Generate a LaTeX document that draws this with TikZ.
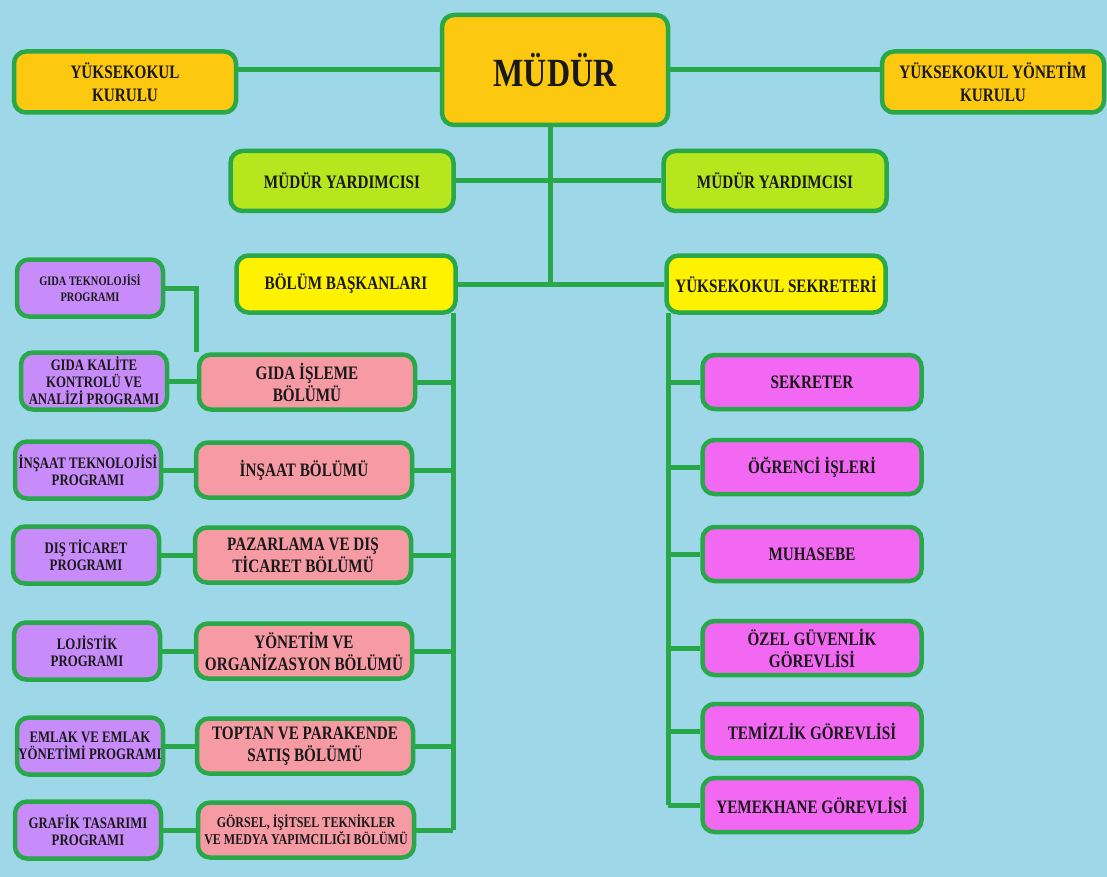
\documentclass[tikz,border=0pt]{standalone}
\usepackage{fontspec}
\setmainfont[FakeStretch=0.8]{Liberation Serif}
\usetikzlibrary{positioning}
\definecolor{skyblue}{RGB}{158,216,232}
\definecolor{linegreen}{RGB}{40,168,72}
\definecolor{headorange}{RGB}{253,200,16}
\definecolor{limegreen}{RGB}{182,230,30}
\definecolor{brightyellow}{RGB}{255,242,0}
\definecolor{salmonpink}{RGB}{246,154,164}
\definecolor{lilac}{RGB}{200,140,250}
\definecolor{orchid}{RGB}{242,104,242}

\begin{document}
\begin{tikzpicture}[x=1pt,y=-1pt]
\tikzstyle{box}=[rectangle, rounded corners=12pt, draw=linegreen, line width=4.5pt, inner sep=0pt, align=center, text=black!90]
\tikzstyle{connect}=[draw=linegreen, line width=5pt]
\tikzstyle{board}=[box, fill=headorange, minimum width=222pt, minimum height=61pt, font=\bfseries\fontsize{19}{23}\selectfont]
\tikzstyle{deputy}=[box, fill=limegreen, minimum width=223pt, minimum height=60pt, font=\bfseries\fontsize{19}{23}\selectfont]
\tikzstyle{chief}=[box, fill=brightyellow, minimum width=219pt, minimum height=57pt, font=\bfseries\fontsize{19}{23}\selectfont]
\tikzstyle{dept}=[box, fill=salmonpink, minimum width=216pt, minimum height=55pt, font=\bfseries\fontsize{19}{22}\selectfont]
\tikzstyle{prog}=[box, fill=lilac, minimum width=146pt, minimum height=57pt, font=\bfseries\fontsize{16}{17}\selectfont]
\tikzstyle{staff}=[box, fill=orchid, minimum width=219pt, minimum height=54pt, font=\bfseries\fontsize{19}{22}\selectfont]
  \fill[skyblue] (0,0) rectangle (1107,877);
  \useasboundingbox (0,0) rectangle (1107,877);
  % top level
  \node[box, fill=headorange, minimum width=226pt, minimum height=110pt, font=\bfseries\fontsize{40}{44}\selectfont] (mudur) at (555,70) {MÜDÜR};
  \node[board] (ykk) at (125,82) {YÜKSEKOKUL\\KURULU};
  \node[board] (yyk) at (993,82) {YÜKSEKOKUL YÖNETİM\\KURULU};
  \node[deputy] (myl) at (342,181) {MÜDÜR YARDIMCISI};
  \node[deputy] (myr) at (775,181) {MÜDÜR YARDIMCISI};
  \node[chief] (bb) at (346,284) {BÖLÜM BAŞKANLARI};
  \node[chief] (ys) at (776,284) {YÜKSEKOKUL SEKRETERİ};
  % departments
  \node[dept] (gi) at (307,382) {GIDA İŞLEME\\BÖLÜMÜ};
  \node[dept] (ins) at (304,470) {İNŞAAT BÖLÜMÜ};
  \node[dept] (pz) at (303,555) {PAZARLAMA VE DIŞ\\TİCARET BÖLÜMÜ};
  \node[dept] (yo) at (304,651) {YÖNETİM VE\\ORGANİZASYON BÖLÜMÜ};
  \node[dept] (tp) at (305,746) {TOPTAN VE PARAKENDE\\SATIŞ BÖLÜMÜ};
  \node[dept, font=\bfseries\fontsize{15}{17}\selectfont] (gv) at (306,830) {GÖRSEL, İŞİTSEL TEKNİKLER\\VE MEDYA YAPIMCILIĞI BÖLÜMÜ};
  % programmes
  \node[prog, font=\bfseries\fontsize{13}{16}\selectfont] (gt) at (90,288) {GIDA TEKNOLOJİSİ\\PROGRAMI};
  \node[prog] (gk) at (94,381) {GIDA KALİTE\\KONTROLÜ VE\\ANALİZİ PROGRAMI};
  \node[prog] (it) at (88,470) {İNŞAAT TEKNOLOJİSİ\\PROGRAMI};
  \node[prog] (dt) at (86,555) {DIŞ TİCARET\\PROGRAMI};
  \node[prog] (lj) at (87,651) {LOJİSTİK\\PROGRAMI};
  \node[prog] (em) at (90,746) {EMLAK VE EMLAK\\YÖNETİMİ PROGRAMI};
  \node[prog] (gf) at (88,830) {GRAFİK TASARIMI\\PROGRAMI};
  % secretary staff
  \node[staff] (sk) at (812,382) {SEKRETER};
  \node[staff] (og) at (812,467) {ÖĞRENCİ İŞLERİ};
  \node[staff] (mh) at (812,554) {MUHASEBE};
  \node[staff] (oz) at (812,648) {ÖZEL GÜVENLİK\\GÖREVLİSİ};
  \node[staff] (tm) at (812,731) {TEMİZLİK GÖREVLİSİ};
  \node[staff] (ym) at (812,805) {YEMEKHANE GÖREVLİSİ};
  \coordinate (lbus) at (453,313);
  \coordinate (rbus) at (668,313);
  \coordinate (trunk) at (550,284);
  \draw[connect] (mudur.west -| ykk.east) -- (mudur.west);
  \draw[connect] (mudur.east) -- (mudur.east -| yyk.west);
  \path (myl) edge [connect] (myr)
        (bb) edge [connect] (ys);
  \draw[connect] (mudur.south -| trunk) -- (trunk);
  \draw[connect] (lbus) -- (lbus |- gv.east);
  \draw[connect] (rbus) -- (rbus |- ym.west);
  \foreach \d in {gi,ins,pz,yo,tp,gv}
    \draw[connect] (\d.east) -- (\d.east -| lbus);
  \foreach \s in {sk,og,mh,oz,tm,ym}
    \draw[connect] (rbus |- \s.west) -- (\s.west);
  \draw[connect] (gt.east) -| (gi.north west);
  \path (gk) edge [connect] (gk -| gi.west)
        (it) edge [connect] (ins)
        (dt) edge [connect] (pz)
        (lj) edge [connect] (yo)
        (em) edge [connect] (tp)
        (gf) edge [connect] (gv);
\end{tikzpicture}
\end{document}
